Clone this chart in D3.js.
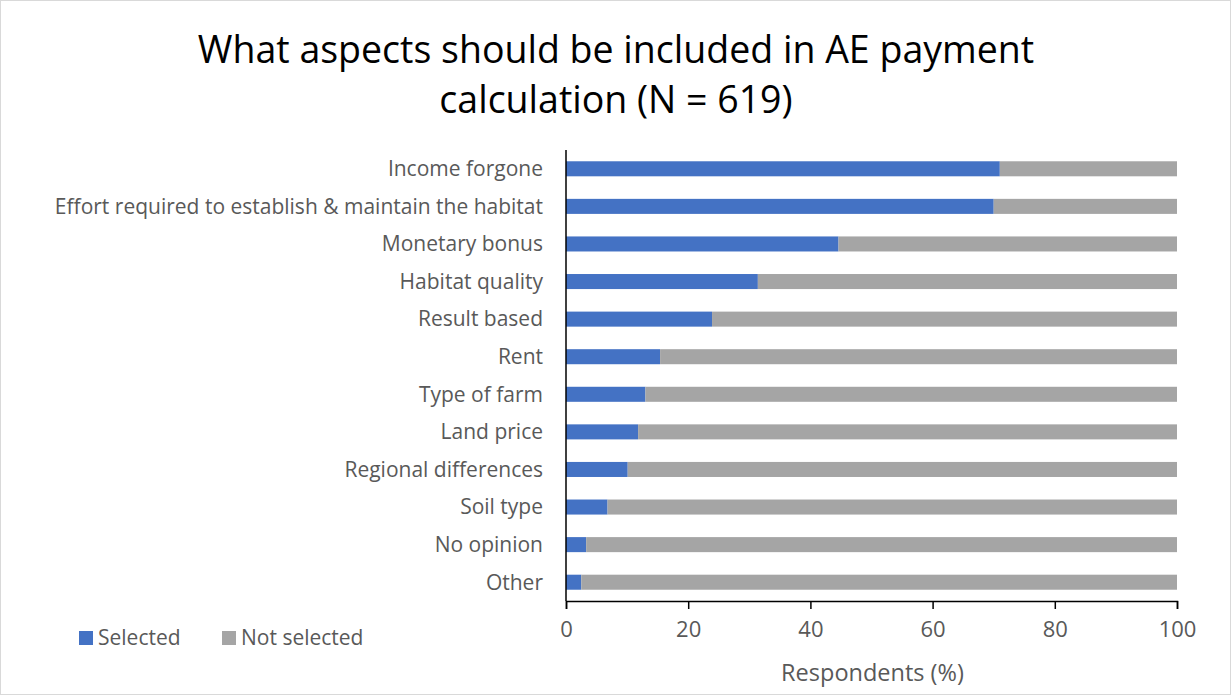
<!DOCTYPE html>
<html>
<head>
<meta charset="utf-8">
<script src="https://cdn.jsdelivr.net/npm/d3@7"></script>
<style>
  html, body { margin: 0; padding: 0; background: #fff; }
  svg { display: block; font-family: "Open Sans", "Noto Sans", sans-serif; }
</style>
</head>
<body>
<svg id="chart" width="1231" height="695"></svg>
<script>
// Answer options, top to bottom
const categories = [
  "Income forgone",
  "Effort required to establish & maintain the habitat",
  "Monetary bonus",
  "Habitat quality",
  "Result based",
  "Rent",
  "Type of farm",
  "Land price",
  "Regional differences",
  "Soil type",
  "No opinion",
  "Other"
];
// Share of respondents who selected each option (%)
const selected = [71.0, 70.0, 44.6, 31.4, 23.9, 15.4, 13.0, 11.8, 10.1, 6.8, 3.3, 2.5];
// Remaining share (%)
const notSelected = selected.map(v => +(100 - v).toFixed(1));
const seriesNames = ["Selected", "Not selected"];
const xTicks = [0, 20, 40, 60, 80, 100];
const titleLines = ["What aspects should be included in AE payment", "calculation (N = 619)"];
const xTitle = "Respondents (%)";

const colors = { "Selected": "#4472C4", "Not selected": "#A5A5A5" };
const textColor = "#595959";

const svg = d3.select("#chart");
const W = 1231, H = 695;

// chart frame
svg.append("rect")
  .attr("x", 0.5).attr("y", 0.5)
  .attr("width", W - 1).attr("height", H - 1)
  .attr("fill", "#fff").attr("stroke", "#D9D9D9");

const plot = { left: 566, right: 1177, top: 150, bottom: 601 };

const x = d3.scaleLinear().domain([0, 100]).range([plot.left, plot.right]);
const y = d3.scaleBand().domain(categories).range([plot.top, plot.bottom]).paddingInner(0.6).paddingOuter(0.3);

const rows = categories.map((c, i) => ({ cat: c, "Selected": selected[i], "Not selected": notSelected[i] }));
const stacked = d3.stack().keys(seriesNames)(rows);

svg.append("g").selectAll("g")
  .data(stacked)
  .join("g")
  .attr("fill", d => colors[d.key])
  .selectAll("rect")
  .data(d => d)
  .join("rect")
  .attr("x", d => x(d[0]))
  .attr("width", d => x(d[1]) - x(d[0]))
  .attr("y", d => y(d.data.cat))
  .attr("height", y.bandwidth());

// category labels
svg.append("g").selectAll("text")
  .data(categories)
  .join("text")
  .attr("x", plot.left - 23)
  .attr("y", d => y(d) + y.bandwidth() / 2)
  .attr("dy", "0.35em")
  .attr("text-anchor", "end")
  .attr("font-size", 21)
  .attr("fill", textColor)
  .text(d => d);

// vertical axis line
svg.append("line")
  .attr("x1", plot.left).attr("x2", plot.left)
  .attr("y1", plot.top).attr("y2", plot.bottom)
  .attr("stroke", "#000").attr("stroke-width", 1.5);

// x axis
const xAxis = d3.axisBottom(x).tickValues(xTicks).tickSize(8).tickPadding(12).tickFormat(d3.format("d"));
const gx = svg.append("g").attr("transform", `translate(0,${plot.bottom})`).call(xAxis);
gx.select(".domain").attr("stroke", "#000").attr("stroke-width", 1.5);
gx.selectAll(".tick line").attr("stroke", "#000").attr("stroke-width", 1.5);
gx.selectAll(".tick text")
  .attr("font-size", 22)
  .attr("font-family", "'Open Sans', sans-serif")
  .attr("fill", textColor);

// x axis title
svg.append("text")
  .attr("x", (plot.left + plot.right) / 2 + 1)
  .attr("y", 681)
  .attr("text-anchor", "middle")
  .attr("font-size", 23.5)
  .attr("fill", textColor)
  .text(xTitle);

// chart title
svg.append("text")
  .attr("text-anchor", "middle")
  .attr("font-size", 37.5)
  .attr("fill", "#000")
  .selectAll("tspan")
  .data(titleLines)
  .join("tspan")
  .attr("x", 616)
  .attr("y", (d, i) => 63 + i * 50)
  .text(d => d);

// legend
const legendX = [79, 222];
const lg = svg.append("g").selectAll("g")
  .data(seriesNames)
  .join("g")
  .attr("transform", (d, i) => `translate(${legendX[i]},631)`);
lg.append("rect").attr("width", 14).attr("height", 14).attr("fill", d => colors[d]);
lg.append("text")
  .attr("x", 19).attr("y", 7).attr("dy", "0.35em")
  .attr("font-size", 21)
  .attr("fill", textColor)
  .text(d => d);
</script>
</body>
</html>
